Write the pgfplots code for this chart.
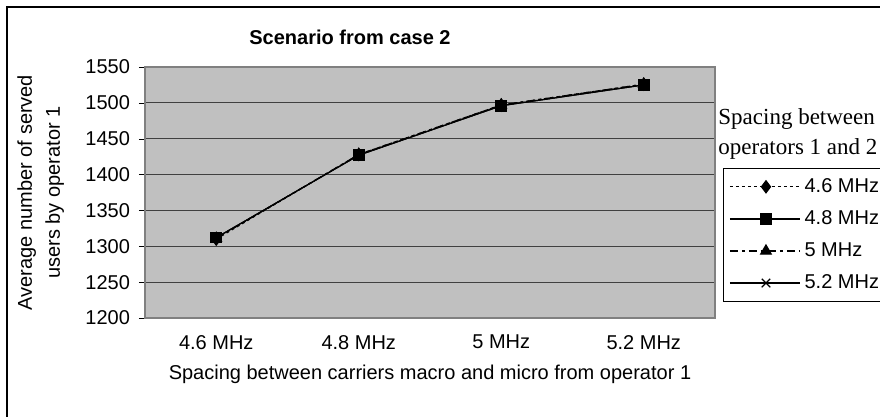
\documentclass[border=0pt]{standalone}
\usepackage{fontspec}
\setmainfont{Liberation Sans}
\newfontfamily\timesfont{Liberation Serif}
\usepackage{pgfplots}
\pgfplotsset{compat=1.18}
\definecolor{plotgray}{HTML}{C0C0C0}
\definecolor{framegray}{HTML}{808080}

\begin{document}
\begin{tikzpicture}
% image px -> pt: x*0.5, (417-y)*0.5
\useasboundingbox (0,0) rectangle (440pt,208.5pt);
\clip (0,0) rectangle (440pt,208.5pt);
\draw[black, line width=0.6pt] (3.5pt,-10pt) rectangle (460pt,205pt);

\begin{axis}[
    at={(72.5pt,49.5pt)}, anchor=south west,
    scale only axis,
    width=285pt, height=125.5pt,
    xmin=-0.5, xmax=3.5,
    ymin=1200, ymax=1550,
    ytick={1200,1250,...,1550},
    xtick={0,1,2,3},
    xticklabels={4.6 MHz,4.8 MHz,5 MHz,5.2 MHz},
    xtick pos=bottom, ytick pos=left,
    x tick style={draw=none},
    extra x ticks={0.5,1.5,2.5},
    extra x tick labels={},
    extra x tick style={major tick length=3pt, tick align=outside, tick style={draw=black}},
    y tick style={black},
    ytick align=outside, major tick length=3pt,
    ymajorgrids,
    grid style={black!75, line width=0.5pt},
    axis background/.style={fill=plotgray},
    axis line style={framegray, line width=0.6pt},
    tick label style={font=\fontsize{10}{11}\selectfont},
    /pgf/number format/assume math mode=true,
    /pgf/number format/1000 sep={},
    yticklabel style={xshift=-1pt},
    xticklabel style={yshift=-5pt},
    xlabel={Spacing between carriers macro and micro from operator 1},
    xlabel style={font=\fontsize{10}{11}\selectfont, yshift=2pt},
    ylabel={Average number of served\\users by operator 1},
    ylabel style={font=\fontsize{10}{14}\selectfont, align=center,
        at={(axis description cs:-0.183,0.5)}, anchor=center},
    legend style={at={(axis description cs:1.014,0.598)}, anchor=north west,
        draw=black, fill=white, font=\fontsize{10}{11}\selectfont,
        row sep=3.6pt, inner sep=3pt},
    legend cell align=left,
    legend image code/.code={
        \draw[mark repeat=2,mark phase=2]
        plot coordinates {(0pt,0pt) (18pt,0pt) (35pt,0pt)};
    },
]
\addplot[black, dash pattern=on 1.5pt off 1.5pt, line width=0.6pt, mark=diamond*, mark size=3pt,
    mark options={solid}]
    coordinates {(0,1310) (1,1428) (2,1497) (3,1526)};
\addlegendentry{4.6 MHz}
\addplot[black, solid, line width=0.6pt, mark=square*, mark size=2.6pt]
    coordinates {(0,1312) (1,1427) (2,1496) (3,1525)};
\addlegendentry{4.8 MHz}
\addplot[black, dash pattern=on 4pt off 2pt on 1.5pt off 2pt, line width=0.6pt,
    mark=triangle*, mark size=3pt, mark options={solid}]
    coordinates {(0,1311) (1,1428) (2,1497) (3,1526)};
\addlegendentry{5 MHz}
\addplot[black, solid, line width=0.6pt, mark=x, mark size=3pt]
    coordinates {(0,1312) (1,1427) (2,1496) (3,1525)};
\addlegendentry{5.2 MHz}
\end{axis}

\node[font=\bfseries\fontsize{10}{11}\selectfont] at (175pt,190pt) {Scenario from case 2};
\node[font=\timesfont\fontsize{11.5}{12}\selectfont, anchor=base west, inner sep=0pt]
    at (359pt,146pt) {Spacing between};
\node[font=\timesfont\fontsize{11.5}{12}\selectfont, anchor=base west, inner sep=0pt]
    at (359pt,131pt) {operators 1 and 2};
\end{tikzpicture}
\end{document}
